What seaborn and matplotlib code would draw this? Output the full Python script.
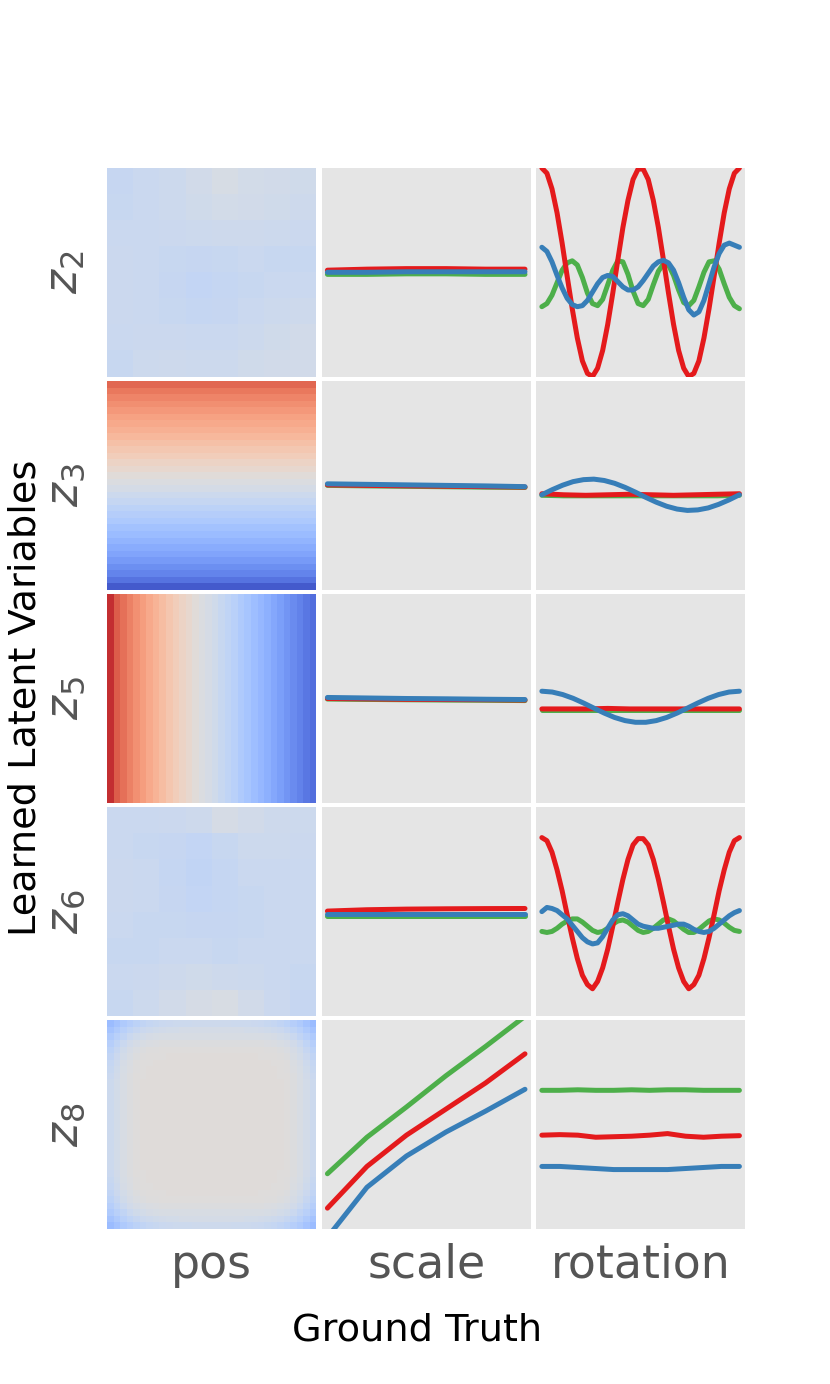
import numpy as np
import pandas as pd
import matplotlib
matplotlib.use("Agg")
import matplotlib.pyplot as plt
import seaborn as sns

# Estilo: fondo gris sin rejilla
sns.set_theme(style="dark", rc={"axes.facecolor": "#E5E5E5", "figure.facecolor": "white"})

latentes = ["$z_2$", "$z_3$", "$z_5$", "$z_6$", "$z_8$"]
factores = ["pos", "scale", "rotation"]
formas = ["ellipse", "square", "heart"]          # orden de dibujo: verde, rojo, azul
colores = {"square": "#e41a1c", "ellipse": "#4daf4a", "heart": "#377eb8"}

# ---------- mapas de posición (valores en [-1, 1]) ----------
z2_pos = [
    [-0.16, -0.14, -0.12, -0.09, -0.05, -0.08, -0.09, -0.10],
    [-0.15, -0.14, -0.12, -0.10, -0.08, -0.09, -0.10, -0.11],
    [-0.14, -0.14, -0.13, -0.12, -0.11, -0.11, -0.12, -0.13],
    [-0.13, -0.14, -0.15, -0.16, -0.15, -0.14, -0.15, -0.15],
    [-0.13, -0.14, -0.16, -0.18, -0.17, -0.15, -0.14, -0.14],
    [-0.13, -0.14, -0.15, -0.17, -0.16, -0.14, -0.12, -0.11],
    [-0.14, -0.13, -0.13, -0.14, -0.14, -0.12, -0.10, -0.09],
    [-0.15, -0.12, -0.11, -0.12, -0.12, -0.10, -0.09, -0.09],
]
z3_pos_filas = [0.72, 0.65, 0.60, 0.55, 0.50, 0.46, 0.42, 0.38, 0.33, 0.28, 0.23, 0.18,
                0.13, 0.08, 0.03, -0.02, -0.07, -0.12, -0.17, -0.22, -0.27, -0.32, -0.37,
                -0.42, -0.47, -0.52, -0.57, -0.62, -0.68, -0.74, -0.82, -0.93]
z5_pos_cols = [0.92, 0.76, 0.68, 0.61, 0.54, 0.48, 0.42, 0.36, 0.30, 0.24, 0.18, 0.13,
               0.08, 0.03, -0.02, -0.06, -0.10, -0.15, -0.20, -0.25, -0.30, -0.35, -0.40,
               -0.45, -0.50, -0.55, -0.60, -0.65, -0.70, -0.75, -0.80, -0.84]
z6_pos = [
    [-0.14, -0.14, -0.13, -0.11, -0.06, -0.09, -0.11, -0.12],
    [-0.14, -0.15, -0.16, -0.18, -0.15, -0.12, -0.12, -0.13],
    [-0.13, -0.14, -0.17, -0.19, -0.17, -0.14, -0.14, -0.14],
    [-0.13, -0.14, -0.16, -0.18, -0.17, -0.15, -0.14, -0.14],
    [-0.14, -0.15, -0.15, -0.16, -0.16, -0.15, -0.14, -0.14],
    [-0.15, -0.15, -0.14, -0.14, -0.15, -0.14, -0.14, -0.14],
    [-0.14, -0.13, -0.11, -0.10, -0.11, -0.12, -0.14, -0.15],
    [-0.15, -0.12, -0.09, -0.06, -0.04, -0.09, -0.13, -0.16],
]
# z8: cuadrante superior izquierdo (16x16), el resto es simétrico
z8_c0 = [-.42, -.36, -.30, -.26, -.22, -.19, -.17, -.15, -.14, -.13, -.12, -.12, -.12, -.11, -.11, -.11]
z8_c1 = [-.36, -.30, -.25, -.20, -.16, -.13, -.11, -.10, -.09, -.08, -.08, -.07, -.07, -.07, -.07, -.07]
z8_c2 = [-.30, -.25, -.19, -.14, -.10, -.08, -.06, -.05, -.04, -.04, -.04, -.04, -.04, -.04, -.04, -.04]
z8_c3 = [-.26, -.20, -.14, -.09, -.06, -.04, -.03, -.02, -.01, -.01, -.01, -.01, -.01, -.01, -.01, -.01]
z8_c4 = [-.22, -.16, -.10, -.06, -.03, -.01, .00, .00, .01, .01, .01, .01, .01, .01, .01, .01]
z8_c5 = [-.19, -.13, -.08, -.04, -.01, .00, .01, .01, .01, .02, .02, .02, .02, .02, .02, .02]
z8_c6 = [-.17, -.11, -.06, -.03, .00, .01, .01, .02, .02, .02, .02, .02, .02, .02, .02, .02]
z8_c7 = [-.15, -.10, -.05, -.02, .00, .01, .02, .02, .02, .02, .02, .02, .02, .02, .02, .02]
z8_c8 = [-.14, -.09, -.04, -.01, .01, .01, .02, .02, .02, .02, .02, .02, .02, .02, .02, .02]
z8_c9 = [-.12, -.08, -.04, -.01, .01, .02, .02, .02, .02, .02, .02, .02, .02, .02, .02, .02]
z8_cuadrante = [z8_c0, z8_c1, z8_c2, z8_c3, z8_c4, z8_c5, z8_c6, z8_c7, z8_c8,
                z8_c9, z8_c9, z8_c9, z8_c9, z8_c9, z8_c9, z8_c9]

# ---------- recorridos de escala (6 valores) ----------
escala = {
    "$z_2$": {"square": [0.02, 0.03, 0.035, 0.035, 0.03, 0.03],
              "ellipse": [-0.02, -0.02, -0.015, -0.015, -0.02, -0.02],
              "heart": [0.0, 0.0, 0.005, 0.005, 0.005, 0.005]},
    "$z_3$": {"square": [0.005, 0.0, -0.004, -0.008, -0.012, -0.016],
              "ellipse": [0.0, -0.005, -0.009, -0.013, -0.017, -0.02],
              "heart": [0.015, 0.01, 0.005, 0.0, -0.005, -0.012]},
    "$z_5$": {"square": [0.0, -0.004, -0.008, -0.01, -0.012, -0.015],
              "ellipse": [-0.005, -0.009, -0.012, -0.015, -0.017, -0.02],
              "heart": [0.01, 0.005, 0.0, -0.003, -0.007, -0.01]},
    "$z_6$": {"square": [0.005, 0.018, 0.024, 0.027, 0.029, 0.03],
              "ellipse": [-0.04, -0.04, -0.04, -0.04, -0.04, -0.04],
              "heart": [-0.025, -0.025, -0.025, -0.025, -0.025, -0.025]},
    "$z_8$": {"square": [-0.80, -0.40, -0.10, 0.15, 0.40, 0.68],
              "ellipse": [-0.47, -0.12, 0.17, 0.47, 0.75, 1.04],
              "heart": [-1.08, -0.60, -0.30, -0.07, 0.13, 0.34]},
}

# ---------- recorridos de rotación ----------
rotacion = {
    "$z_2$": {
        "square": [1.00, 0.95, 0.80, 0.57, 0.28, -0.04, -0.35, -0.63, -0.85, -0.97, -1.00, -0.92,
                   -0.75, -0.50, -0.20, 0.12, 0.43, 0.69, 0.89, 0.99, 0.99, 0.89, 0.69, 0.43,
                   0.12, -0.20, -0.50, -0.75, -0.92, -1.00, -0.97, -0.85, -0.63, -0.35, -0.04,
                   0.28, 0.57, 0.80, 0.95, 1.00],
        "ellipse": [-0.33, -0.30, -0.22, -0.10, 0.02, 0.09, 0.11, 0.07, -0.05, -0.20, -0.30, -0.32,
                    -0.26, -0.12, 0.02, 0.11, 0.10, -0.02, -0.18, -0.30, -0.32, -0.26, -0.12, 0.01,
                    0.08, 0.07, -0.03, -0.17, -0.29, -0.32, -0.27, -0.14, 0.00, 0.10, 0.11, 0.03,
                    -0.11, -0.24, -0.32, -0.35],
        "heart": [0.24, 0.20, 0.10, -0.03, -0.15, -0.25, -0.31, -0.33, -0.32, -0.27, -0.19, -0.11,
                  -0.05, -0.03, -0.04, -0.09, -0.14, -0.17, -0.17, -0.14, -0.08, -0.01, 0.06, 0.10,
                  0.115, 0.09, 0.02, -0.10, -0.24, -0.36, -0.41, -0.38, -0.27, -0.11, 0.05, 0.18,
                  0.26, 0.28, 0.26, 0.24],
    },
    "$z_3$": {
        "square": [-0.08, -0.09, -0.095, -0.09, -0.085, -0.09, -0.095, -0.09, -0.085, -0.08],
        "ellipse": [-0.095, -0.10, -0.10, -0.10, -0.10, -0.10, -0.10, -0.10, -0.10, -0.095],
        "heart": [-0.09, -0.041, 0.002, 0.036, 0.055, 0.060, 0.047, 0.020, -0.019, -0.065,
                  -0.115, -0.161, -0.200, -0.227, -0.240, -0.235, -0.216, -0.182, -0.139, -0.09],
    },
    "$z_5$": {
        "square": [-0.10, -0.10, -0.10, -0.095, -0.10, -0.10, -0.10, -0.10, -0.10, -0.10],
        "ellipse": [-0.11, -0.11, -0.11, -0.11, -0.11, -0.11, -0.11, -0.11, -0.11, -0.11],
        "heart": [0.07, 0.062, 0.038, 0.002, -0.043, -0.092, -0.140, -0.182, -0.212, -0.228,
                  -0.228, -0.212, -0.182, -0.140, -0.092, -0.043, 0.002, 0.038, 0.062, 0.07],
    },
    "$z_6$": {
        "square": [0.71, 0.68, 0.57, 0.40, 0.20, -0.03, -0.25, -0.45, -0.61, -0.70, -0.74, -0.67,
                   -0.54, -0.36, -0.14, 0.09, 0.31, 0.50, 0.64, 0.70, 0.70, 0.64, 0.50, 0.31,
                   0.09, -0.14, -0.36, -0.54, -0.67, -0.74, -0.70, -0.61, -0.45, -0.25, -0.03,
                   0.20, 0.40, 0.57, 0.68, 0.71],
        "ellipse": [-0.19, -0.20, -0.19, -0.16, -0.12, -0.09, -0.07, -0.07, -0.10, -0.14, -0.18,
                    -0.20, -0.19, -0.16, -0.12, -0.09, -0.08, -0.10, -0.14, -0.18, -0.20, -0.19,
                    -0.16, -0.12, -0.08, -0.07, -0.09, -0.13, -0.17, -0.20, -0.20, -0.17, -0.13,
                    -0.09, -0.07, -0.08, -0.11, -0.15, -0.18, -0.19],
        "heart": [0.00, 0.04, 0.03, 0.01, -0.03, -0.07, -0.13, -0.19, -0.25, -0.29, -0.31, -0.30,
                  -0.24, -0.16, -0.08, -0.03, -0.02, -0.04, -0.08, -0.12, -0.14, -0.15, -0.16,
                  -0.16, -0.15, -0.14, -0.13, -0.12, -0.12, -0.14, -0.17, -0.19, -0.20, -0.19,
                  -0.16, -0.12, -0.08, -0.04, -0.01, 0.01],
    },
    "$z_8$": {
        "square": [-0.10, -0.095, -0.10, -0.12, -0.115, -0.11, -0.10, -0.085, -0.11, -0.12, -0.11, -0.105],
        "ellipse": [0.33, 0.33, 0.335, 0.33, 0.33, 0.335, 0.33, 0.335, 0.335, 0.33, 0.33, 0.33],
        "heart": [-0.40, -0.40, -0.41, -0.42, -0.43, -0.43, -0.43, -0.43, -0.42, -0.41, -0.40, -0.40],
    },
}


def mapa_pos(z):
    if z == "$z_2$":
        return np.repeat(np.repeat(np.array(z2_pos), 4, axis=0), 4, axis=1)
    if z == "$z_3$":
        return np.tile(np.array(z3_pos_filas)[:, None], (1, 32))
    if z == "$z_5$":
        return np.tile(np.array(z5_pos_cols)[None, :], (32, 1))
    if z == "$z_6$":
        return np.repeat(np.repeat(np.array(z6_pos), 4, axis=0), 4, axis=1)
    q = np.array(z8_cuadrante)
    arriba = np.hstack([q, q[:, ::-1]])
    return np.vstack([arriba, arriba[::-1, :]])


def tabla(series):
    filas = []
    for forma in formas:
        vals = series[forma]
        t = np.linspace(0, 1, len(vals))
        filas.append(pd.DataFrame({"t": t, "valor": vals, "forma": forma}))
    return pd.concat(filas, ignore_index=True)


fig, axes = plt.subplots(5, 3, figsize=(8.3, 13.84), dpi=100,
                         gridspec_kw=dict(left=0.129, right=0.898, top=0.8786, bottom=0.112,
                                          wspace=0.024, hspace=0.022))

for i, z in enumerate(latentes):
    ax = axes[i, 0]
    sns.heatmap(mapa_pos(z), cmap="coolwarm", vmin=-1, vmax=1, cbar=False,
                xticklabels=False, yticklabels=False, ax=ax)
    ax.set_ylabel(z, fontsize=33, color="#555555", labelpad=14)

    for j, datos in ((1, escala), (2, rotacion)):
        ax = axes[i, j]
        sns.lineplot(data=tabla(datos[z]), x="t", y="valor", hue="forma", hue_order=formas,
                     palette=colores, lw=3.6, legend=False, ax=ax)
        ax.set_xlim(-0.03, 1.03)
        ax.set_ylim(-1, 1)
        ax.set_xticks([])
        ax.set_yticks([])
        ax.set_xlabel("")
        ax.set_ylabel("")

for ax in axes.flat:
    for s in ax.spines.values():
        s.set_visible(False)
    ax.tick_params(length=0)

for j, f in enumerate(factores):
    axes[-1, j].set_xlabel(f, fontsize=33, color="#555555", labelpad=10)

fig.text(0.503, 0.039, "Ground Truth", fontsize=27.5, color="black", ha="center", va="center")
fig.text(0.031, 0.4957, "Learned Latent Variables", fontsize=27.5, color="black",
         rotation=90, ha="center", va="center")

plt.savefig("out.png", dpi=100)
plt.close()
